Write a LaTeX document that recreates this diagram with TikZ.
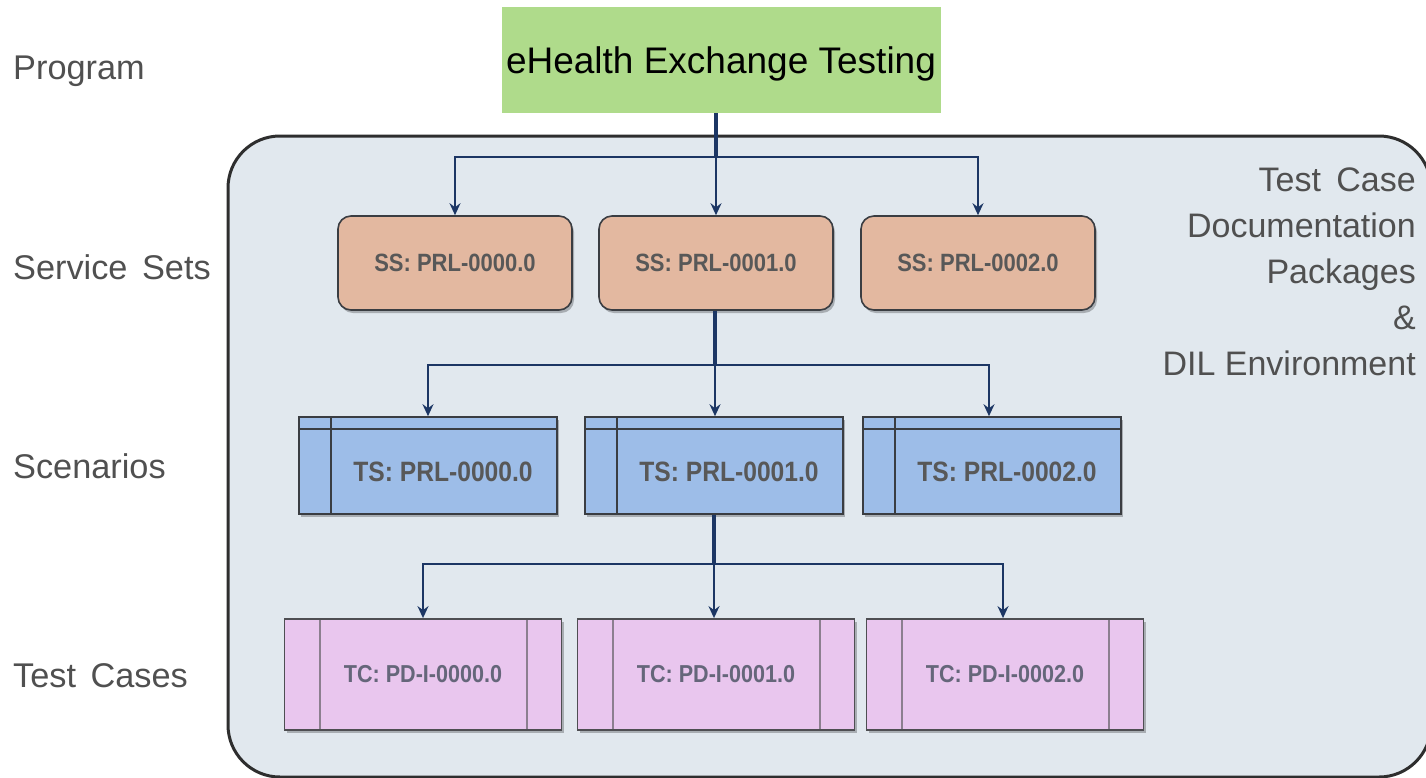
\documentclass[tikz,border=0pt]{standalone}
\usepackage{fontspec}
\setmainfont{Liberation Sans}
\newfontfamily\condfont[FakeStretch=0.88]{Liberation Sans}
\usetikzlibrary{arrows.meta,shadows}
\definecolor{envfill}{HTML}{E1E8EE}
\definecolor{envline}{HTML}{2E2E2E}
\definecolor{progfill}{HTML}{AFDB8B}
\definecolor{ssfill}{HTML}{E3B8A0}
\definecolor{tsfill}{HTML}{9DBDE8}
\definecolor{tcfill}{HTML}{E9C6EE}
\definecolor{boxline}{HTML}{3A3D42}
\definecolor{tcline}{HTML}{4E4E52}
\definecolor{tcinner}{HTML}{8C7F8F}
\definecolor{conncol}{HTML}{1C3664}
\definecolor{labcol}{HTML}{505050}
\definecolor{boxtext}{HTML}{585858}
\definecolor{tctext}{HTML}{65667A}
\begin{document}
\begin{tikzpicture}[x=1pt,y=-1pt,
  lefttxt/.style={anchor=base west, inner sep=0pt, text=labcol, font={\fontsize{34.3}{40}\selectfont}},
  envbox/.style={draw=envline, line width=3pt, fill=envfill, rounded corners=52pt},
  prog/.style={fill=progfill, minimum width=439pt, minimum height=106pt, inner sep=0pt, text depth=0pt, font={\fontsize{37}{44}\selectfont}},
  shade/.style={drop shadow={shadow xshift=2pt, shadow yshift=-3pt, opacity=0.25, fill=black}},
  ss/.style={shade, draw=boxline, line width=1.6pt, fill=ssfill, rounded corners=13pt, minimum width=234pt, minimum height=94pt, inner sep=0pt, text=boxtext, font={\condfont\bfseries\fontsize{25}{30}\selectfont}},
  tstext/.style={inner sep=0pt, text=boxtext, font={\condfont\bfseries\fontsize{28}{33}\selectfont}},
  ts/.style={shade, draw=boxline, line width=1.6pt, fill=tsfill, minimum width=258pt, minimum height=97pt, inner sep=0pt,
    path picture={
      \draw[boxline, line width=1.6pt] ([yshift=-12pt]path picture bounding box.north west) -- ([yshift=-12pt]path picture bounding box.north east);
      \draw[boxline, line width=1.6pt] ([xshift=32pt]path picture bounding box.north west) -- ([xshift=32pt]path picture bounding box.south west);}},
  tc/.style={shade, draw=tcline, line width=1.8pt, fill=tcfill, minimum width=277pt, minimum height=111pt, inner sep=0pt, text=tctext, font={\condfont\bfseries\fontsize{24.5}{30}\selectfont},
    path picture={
      \draw[tcinner, line width=2pt] ([xshift=35pt]path picture bounding box.north west) -- ([xshift=35pt]path picture bounding box.south west);
      \draw[tcinner, line width=2pt] ([xshift=-35pt]path picture bounding box.north east) -- ([xshift=-35pt]path picture bounding box.south east);}},
  trunk/.style={draw=conncol, line width=3.5pt},
  branch/.style={draw=conncol, line width=2pt, -{Stealth[length=12pt,width=11pt,inset=4pt]}},
  righttxt/.style={anchor=north east, inner sep=0pt, align=right, text=labcol, font={\fontsize{34}{46}\selectfont}}
]
\useasboundingbox (0,0) rectangle (1426,777);
\begin{scope}
\clip (0,0) rectangle (1426,777);
\draw[envbox] (228,136) rectangle (1431,777);
\end{scope}

% left labels
\node[lefttxt] (lprog) at (13,79) {Program};
\node[lefttxt] (lss) at (13,279) {Service\hspace{5pt} Sets};
\node[lefttxt] (lsc) at (13,478) {Scenarios};
\node[lefttxt] (ltc) at (13,687) {Test\hspace{5pt} Cases};

% right text
\node[righttxt] (rtxt) at (1416,168) {Test\hspace{6pt} Case\\Documentation\\Packages\\\&\\DIL Environment};

% program
\node[prog] (prog) at (721,60) {eHealth Exchange Testing};

% service sets
\node[ss] (ss0) at (455,263) {SS: PRL-0000.0};
\node[ss] (ss1) at (716,263) {SS: PRL-0001.0};
\node[ss] (ss2) at (978,263) {SS: PRL-0002.0};

% scenarios
\node[ts, label={[tstext, xshift=15pt, yshift=-6pt]center:TS: PRL-0000.0}] (ts0) at (428,465.5) {};
\node[ts, label={[tstext, xshift=15pt, yshift=-6pt]center:TS: PRL-0001.0}] (ts1) at (714,465.5) {};
\node[ts, label={[tstext, xshift=15pt, yshift=-6pt]center:TS: PRL-0002.0}] (ts2) at (992,465.5) {};

% test cases
\node[tc] (tc0) at (423,674.5) {TC: PD-I-0000.0};
\node[tc] (tc1) at (716,674.5) {TC: PD-I-0001.0};
\node[tc] (tc2) at (1005,674.5) {TC: PD-I-0002.0};

% connectors
\coordinate (j1) at (716,157);
\coordinate (j2) at (715,365);
\coordinate (j3) at (714,564);

\draw[trunk] (prog.south -| j1) -- (j1);
\draw[branch] (j1) -| (ss0.north);
\draw[branch] (j1) -- (j1 |- ss1.north);
\draw[branch] (j1) -| (ss2.north);

\draw[trunk] (ss1.south -| j2) -- (j2);
\draw[branch] (j2) -| (ts0.north);
\draw[branch] (j2) -- (j2 |- ts1.north);
\draw[branch] (j2) -| ([xshift=-3pt]ts2.north);

\draw[trunk] (ts1.south -| j3) -- (j3);
\draw[branch] (j3) -| (tc0.north);
\draw[branch] (j3) -- (j3 |- tc1.north);
\draw[branch] (j3) -| ([xshift=-2pt]tc2.north);
\end{tikzpicture}
\end{document}
